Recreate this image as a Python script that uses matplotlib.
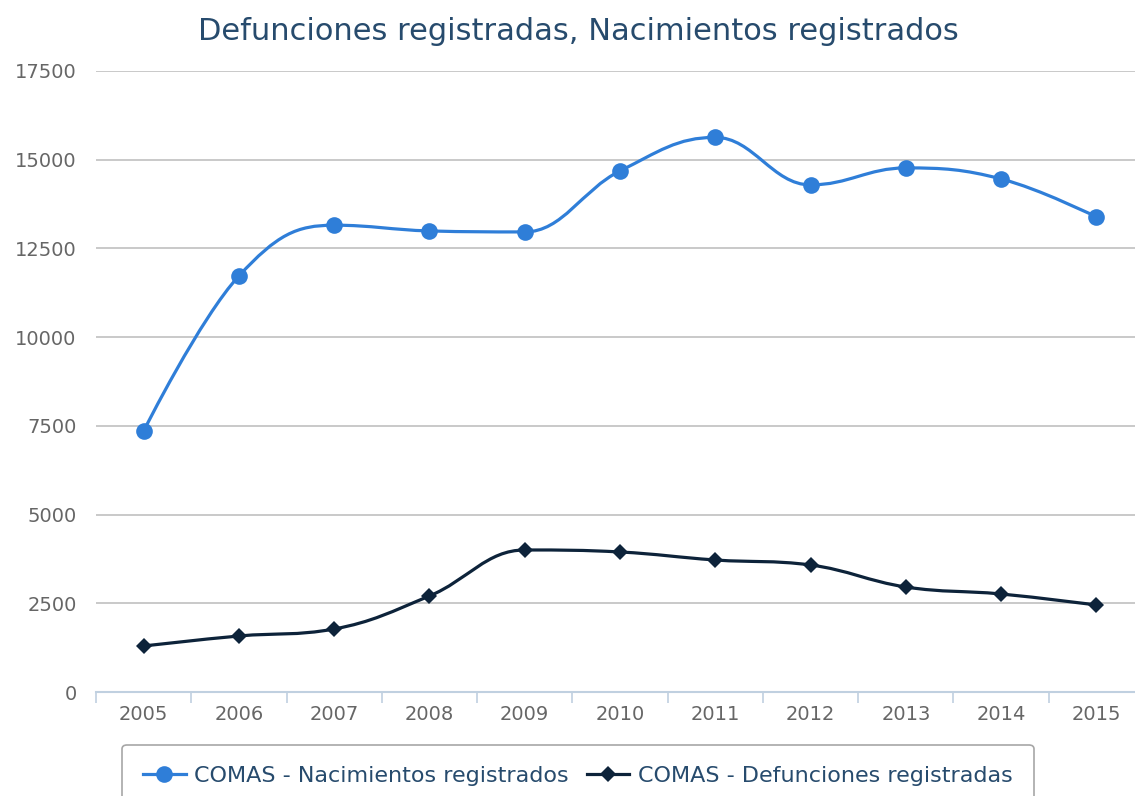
import numpy as np
import matplotlib
matplotlib.use("Agg")
import matplotlib.pyplot as plt
from matplotlib.path import Path
from matplotlib.patches import PathPatch
from matplotlib.lines import Line2D

# Years on the category axis
YEARS = ["2005", "2006", "2007", "2008", "2009", "2010",
         "2011", "2012", "2013", "2014", "2015"]

# COMAS - Nacimientos registrados
NACIMIENTOS = [7356, 11725, 13155, 12993, 12965, 14684,
               15630, 14290, 14769, 14459, 13388]

# COMAS - Defunciones registradas
DEFUNCIONES = [1296, 1578, 1776, 2706, 4002, 3946,
               3720, 3579, 2959, 2762, 2452]

BLUE = "#2f7ed8"
DARK = "#0d233a"
TITLE_COLOR = "#274b6d"
LABEL_COLOR = "#666666"


def spline_path(xs, ys, smoothing=1.5):
    # Highcharts-style spline: cubic bezier segments between the data points
    denom = smoothing + 1
    n = len(xs)
    right = [None] * n
    verts = [(xs[0], ys[0])]
    codes = [Path.MOVETO]
    for i in range(1, n):
        px, py = xs[i], ys[i]
        lx, ly = xs[i - 1], ys[i - 1]
        left_c = (px, py)
        if i < n - 1:
            nx, ny = xs[i + 1], ys[i + 1]
            lcx = (smoothing * px + lx) / denom
            lcy = (smoothing * py + ly) / denom
            rcx = (smoothing * px + nx) / denom
            rcy = (smoothing * py + ny) / denom
            corr = 0
            if rcx != lcx:
                corr = (rcy - lcy) * (rcx - px) / (rcx - lcx) + py - rcy
            lcy += corr
            rcy += corr
            if lcy > ly and lcy > py:
                lcy = max(ly, py)
                rcy = 2 * py - lcy
            elif lcy < ly and lcy < py:
                lcy = min(ly, py)
                rcy = 2 * py - lcy
            if rcy > ny and rcy > py:
                rcy = max(ny, py)
                lcy = 2 * py - rcy
            elif rcy < ny and rcy < py:
                rcy = min(ny, py)
                lcy = 2 * py - rcy
            left_c = (lcx, lcy)
            right[i] = (rcx, rcy)
        start_c = right[i - 1] if right[i - 1] is not None else (lx, ly)
        verts += [start_c, left_c, (px, py)]
        codes += [Path.CURVE4] * 3
    return Path(verts, codes)


fig = plt.figure(figsize=(11.35, 7.96), dpi=100)
ax = fig.add_axes([96 / 1135, 104 / 796, 1048 / 1135, 621 / 796])

x = np.arange(len(YEARS))

for vals, color, marker, ms in [(NACIMIENTOS, BLUE, "o", 12),
                                (DEFUNCIONES, DARK, "D", 8.5)]:
    ax.add_patch(PathPatch(spline_path(x, vals), facecolor="none",
                           edgecolor=color, lw=2.3, zorder=3,
                           capstyle="round", joinstyle="round"))
    ax.plot(x, vals, linestyle="none", marker=marker, markersize=ms,
            color=color, markeredgewidth=0, zorder=4)

ax.set_xlim(-0.5, len(YEARS) - 0.5)
ax.set_ylim(0, 17500)
ax.set_yticks(np.arange(0, 17501, 2500))
ax.yaxis.grid(True, color="#c0c0c0", lw=1.2)
ax.set_axisbelow(True)

ax.set_xticks(x)
ax.set_xticklabels(YEARS)
ax.set_xticks(np.arange(-0.5, len(YEARS), 1), minor=True)
ax.tick_params(axis="x", which="major", length=0, pad=9,
               labelsize=14, labelcolor=LABEL_COLOR)
ax.tick_params(axis="x", which="minor", length=8, width=1.2,
               color="#c0d0e0", direction="out")
ax.tick_params(axis="y", length=0, pad=14, labelsize=14,
               labelcolor=LABEL_COLOR)

for side in ["top", "right", "left"]:
    ax.spines[side].set_visible(False)
ax.spines["bottom"].set_color("#c0d0e0")
ax.spines["bottom"].set_linewidth(1.5)

fig.text(578 / 1135, 1 - 31 / 796,
         "Defunciones registradas, Nacimientos registrados",
         ha="center", va="center", fontsize=22, color=TITLE_COLOR)

handles = [
    Line2D([], [], color=BLUE, lw=2.3, marker="o", markersize=12,
           markeredgewidth=0),
    Line2D([], [], color=DARK, lw=2.3, marker="D", markersize=8.5,
           markeredgewidth=0),
]
leg = fig.legend(handles,
                 ["COMAS - Nacimientos registrados",
                  "COMAS - Defunciones registradas"],
                 loc="upper center", bbox_to_anchor=(578 / 1135, 51 / 796),
                 ncol=2, fontsize=16, frameon=True, fancybox=True,
                 edgecolor="#909090", handlelength=1.9, handletextpad=0.4,
                 columnspacing=0.8, borderpad=0.95, borderaxespad=0.0)
for t in leg.get_texts():
    t.set_color(TITLE_COLOR)
leg.get_frame().set_linewidth(1.2)

fig.savefig("out.png", dpi=100)
